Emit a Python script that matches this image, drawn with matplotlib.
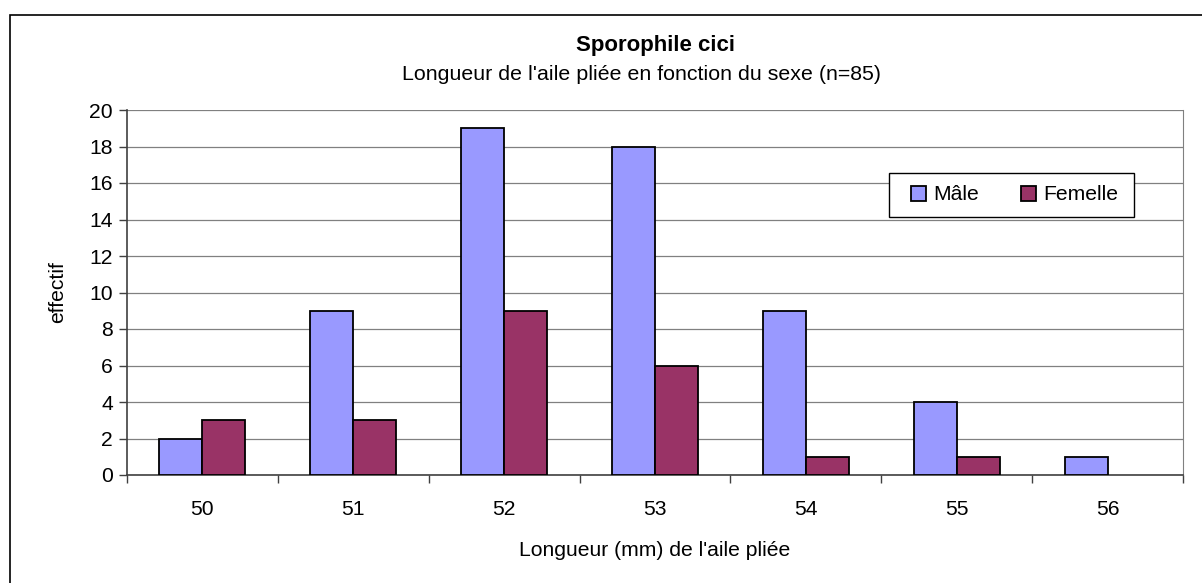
import numpy as np
import matplotlib
matplotlib.use("Agg")
import matplotlib.pyplot as plt
from matplotlib.patches import Rectangle

plt.rcParams["font.family"] = ["Liberation Sans", "DejaVu Sans"]

# --- data ---
lengths = ["50", "51", "52", "53", "54", "55", "56"]
male = [2, 9, 19, 18, 9, 4, 1]
female = [3, 3, 9, 6, 1, 1, 0]

W, H = 1202, 583
fs = 15.2
fig = plt.figure(figsize=(W / 100, H / 100), dpi=100)

# outer frame of the chart object (runs off the right and bottom edges)
fig.patches.append(Rectangle((10 / W, -0.2), 1.2, 1.2 - 15 / H, transform=fig.transFigure,
                             fill=False, edgecolor="black", linewidth=1.2))

# plot area in pixels
left, right, top, bottom = 127, 1183, 110, 475
ax = fig.add_axes([left / W, 1 - bottom / H, (right - left) / W, (bottom - top) / H])

x = np.arange(len(lengths))
bw = 0.285
ax.bar(x - bw / 2, male, bw, color="#9999FF", edgecolor="black",
       linewidth=[1.3 if v else 0 for v in male], label="Mâle", zorder=3)
ax.bar(x + bw / 2, female, bw, color="#993366", edgecolor="black",
       linewidth=[1.3 if v else 0 for v in female], label="Femelle", zorder=3)

ax.set_xlim(-0.5, len(lengths) - 0.5)
ax.set_ylim(0, 20)
ax.set_yticks(np.arange(0, 21, 2))
ax.yaxis.grid(True, color="#808080", linewidth=0.9, zorder=0)
ax.set_axisbelow(True)

ax.set_xticks(x)
ax.set_xticklabels(lengths)
ax.set_xticks(np.arange(-0.5, len(lengths), 1), minor=True)
ax.tick_params(axis="x", which="major", length=0, pad=18, labelsize=fs)
ax.tick_params(axis="x", which="minor", length=6, width=1, color="#404040", direction="out")
ax.tick_params(axis="y", length=6, width=1, color="#404040", labelsize=fs, pad=4)

for s in ["left", "bottom"]:
    ax.spines[s].set_color("#404040")
    ax.spines[s].set_linewidth(1.2)
ax.spines["right"].set_color("#808080")
ax.spines["top"].set_visible(False)

ax.set_xlabel("Longueur (mm) de l'aile pliée", fontsize=fs, labelpad=16)
ax.set_ylabel("effectif", fontsize=fs, labelpad=16)

fig.text(655 / W, 1 - 46 / H, "Sporophile cici", ha="center", va="center",
         fontsize=16, fontweight="bold")
fig.text(641 / W, 1 - 75 / H, "Longueur de l'aile pliée en fonction du sexe (n=85)",
         ha="center", va="center", fontsize=15.4)

# legend: frame drawn separately so the inner padding matches
fig.patches.append(Rectangle((889 / W, 1 - 217 / H), (1134 - 889) / W, 44 / H,
                             transform=fig.transFigure, facecolor="white",
                             edgecolor="black", linewidth=1.0, zorder=5))
leg = fig.legend(*ax.get_legend_handles_labels(), loc="center left",
                 bbox_to_anchor=(911 / W, 1 - 195 / H),
                 ncol=2, fontsize=fs, frameon=False,
                 handlelength=0.72, handleheight=0.72, handletextpad=0.33,
                 columnspacing=2.0, borderpad=0, borderaxespad=0)
leg.set_zorder(6)

fig.savefig("out.png", dpi=100)
